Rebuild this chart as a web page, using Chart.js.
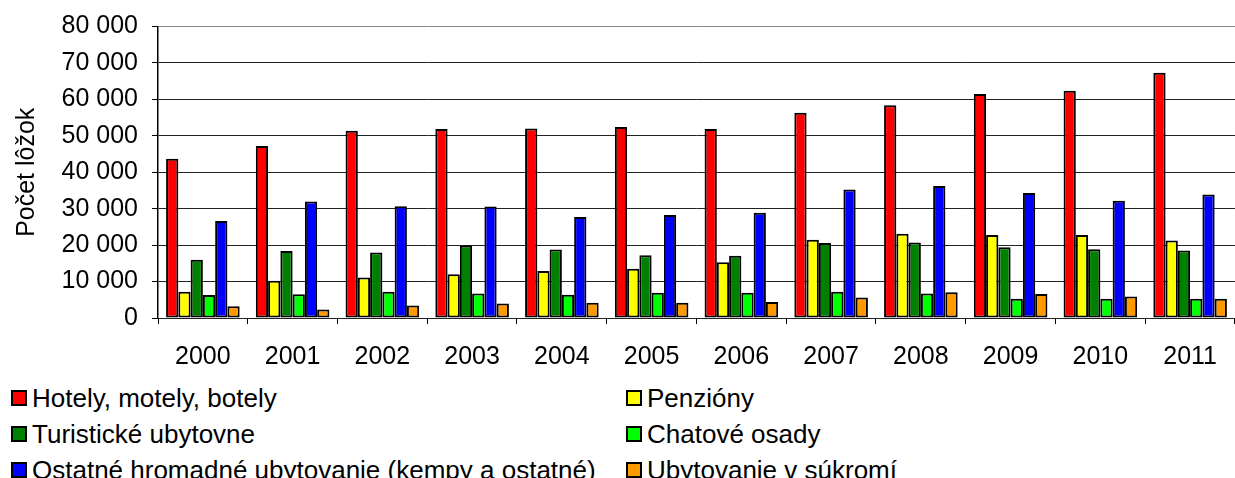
<!DOCTYPE html>
<html>
<head>
<meta charset="utf-8">
<script src="https://cdn.jsdelivr.net/npm/chart.js@4/dist/chart.umd.min.js"></script>
<style>
  html, body { margin: 0; padding: 0; background: #fff; }
  body { width: 1235px; height: 478px; position: relative; overflow: hidden; font-family: "Liberation Sans", Arial, sans-serif; }
  #wrap { position: absolute; left: 0; top: 0; width: 1235px; height: 375px; }
  #legend { position: absolute; left: 11px; top: 380px; display: grid; grid-template-columns: 615px 400px; grid-auto-rows: 36px; font-size: 26px; color: #000; }
  .item { display: flex; align-items: center; white-space: nowrap; }
  .box { width: 12px; height: 12px; border: 2px solid #000; margin-right: 5px; }
</style>
</head>
<body>
<div id="wrap"><canvas id="bedsChart"></canvas></div>
<div id="legend"></div>
<script>
const years = ['2000', '2001', '2002', '2003', '2004', '2005', '2006', '2007', '2008', '2009', '2010', '2011'];

const hotely = [43700, 47200, 51400, 51900, 52000, 52400, 51900, 56300, 58400, 61500, 62400, 67300];
const penziony = [7200, 10200, 11100, 12000, 12900, 13500, 15300, 21500, 23100, 22800, 22800, 21300];
const ubytovne = [16000, 18400, 18000, 19900, 18800, 17200, 17100, 20600, 20700, 19400, 18900, 18500];
const chatove = [6300, 6500, 7200, 6700, 6400, 6900, 6900, 7200, 6700, 5300, 5300, 5300];
const ostatne = [26600, 32000, 30700, 30600, 27700, 28300, 28900, 35300, 36200, 34300, 32200, 33900];
const sukromie = [3200, 2300, 3400, 4000, 4200, 4200, 4400, 5600, 7100, 6600, 5900, 5300];

const yTicks = [0, 10000, 20000, 30000, 40000, 50000, 60000, 70000, 80000];

const seriesNames = [
    'Hotely, motely, botely',
    'Penzióny',
    'Turistické ubytovne',
    'Chatové osady',
    'Ostatné hromadné ubytovanie (kempy a ostatné)',
    'Ubytovanie v súkromí'
];
const seriesColors = ['#ff0000', '#ffff00', '#008000', '#00ff00', '#0000ff', '#ff9900'];
const seriesValues = [hotely, penziony, ubytovne, chatove, ostatne, sukromie];

const datasets = seriesNames.map(function(name, i) {
    return {
        label: name,
        data: seriesValues[i],
        backgroundColor: seriesColors[i],
        borderColor: '#000',
        borderWidth: 2,
        borderSkipped: false,
        barPercentage: 1.0,
        categoryPercentage: 0.82
    };
});

function formatThousands(v) {
    return String(v).replace(/\B(?=(\d{3})+(?!\d))/g, ' ');
}

const font = { family: '"Liberation Sans", Arial, sans-serif', size: 25 };
const yFont = { family: '"Liberation Sans", Arial, sans-serif', size: 25, lineHeight: 1 };

const bedsChart = new Chart(document.getElementById('bedsChart'), {
    type: 'bar',
    data: { labels: years, datasets: datasets },
    options: {
        responsive: true,
        maintainAspectRatio: false,
        animation: false,
        layout: { padding: { top: 25, right: 0, left: 0, bottom: 0 } },
        plugins: {
            legend: { display: false },
            tooltip: { enabled: false }
        },
        scales: {
            x: {
                grid: {
                    offset: true,
                    drawOnChartArea: false,
                    drawTicks: true,
                    tickLength: 6,
                    color: '#000'
                },
                border: { display: false },
                ticks: { color: '#000', font: font, padding: 18, maxRotation: 0 },
                afterFit: function(scale) { scale.height = 57; }
            },
            y: {
                min: 0,
                max: 80000,
                afterBuildTicks: function(scale) {
                    scale.ticks = yTicks.map(function(v) { return { value: v }; });
                },
                grid: {
                    color: function(ctx) { return ctx.tick && ctx.tick.value === 80000 ? '#888' : '#222'; },
                    tickLength: 6,
                    tickColor: '#000'
                },
                border: { display: true, color: '#000', width: 1.5 },
                ticks: {
                    color: '#000',
                    font: yFont,
                    padding: 14,
                    callback: function(v) { return formatThousands(v); }
                },
                title: {
                    display: true,
                    text: 'Počet lôžok',
                    color: '#000',
                    font: font,
                    padding: { top: 12, bottom: 0 }
                },
                afterFit: function(scale) { scale.width = 158; }
            }
        }
    }
});

// legend in two columns, like the original
const legendEl = document.getElementById('legend');
bedsChart.data.datasets.forEach(function(ds) {
    const item = document.createElement('div');
    item.className = 'item';
    const box = document.createElement('span');
    box.className = 'box';
    box.style.background = ds.backgroundColor;
    const text = document.createElement('span');
    text.textContent = ds.label;
    item.appendChild(box);
    item.appendChild(text);
    legendEl.appendChild(item);
});
</script>
</body>
</html>
